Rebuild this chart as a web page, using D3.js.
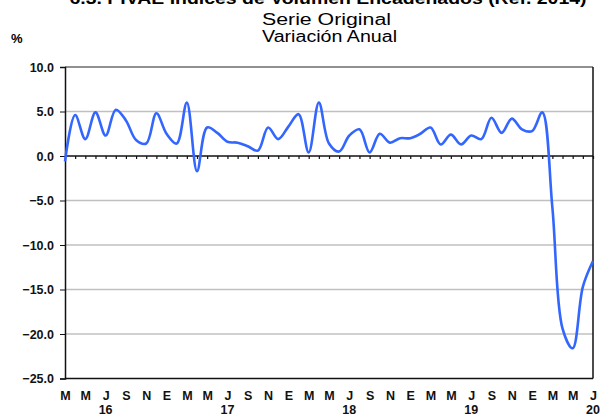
<!DOCTYPE html>
<html><head><meta charset="utf-8">
<script src="https://cdn.jsdelivr.net/npm/d3@7"></script>
<style>body{margin:0;background:#fff}svg{display:block}</style>
</head><body>
<script>
const title = "6.3. PIVAE Índices de Volumen Encadenados (Ref. 2014)";
const subtitle1 = "Serie Original";
const subtitle2 = "Variación Anual";
const yUnit = "%";
const months = [
  "2016-03","2016-04","2016-05","2016-06","2016-07","2016-08","2016-09","2016-10","2016-11","2016-12",
  "2017-01","2017-02","2017-03","2017-04","2017-05","2017-06","2017-07","2017-08","2017-09","2017-10","2017-11","2017-12",
  "2018-01","2018-02","2018-03","2018-04","2018-05","2018-06","2018-07","2018-08","2018-09","2018-10","2018-11","2018-12",
  "2019-01","2019-02","2019-03","2019-04","2019-05","2019-06","2019-07","2019-08","2019-09","2019-10","2019-11","2019-12",
  "2020-01","2020-02","2020-03","2020-04","2020-05","2020-06","2020-07"];
const values = [
  -0.6, 4.6, 1.9, 4.9, 2.3, 5.2, 4.0, 1.8, 1.4, 4.8,
  2.5, 1.4, 6.0, -1.7, 3.2, 2.6, 1.6, 1.5, 1.1, 0.6, 3.2, 1.9,
  3.3, 4.7, 0.4, 6.0, 1.4, 0.5, 2.3, 3.0, 0.4, 2.5, 1.5, 2.0,
  2.0, 2.5, 3.2, 1.3, 2.4, 1.3, 2.3, 1.9, 4.3, 2.6, 4.2, 3.0,
  2.8, 4.9, -5.8, -19.4, -21.6, -14.7, -11.8];
const monthInitials = ["E","F","M","A","M","J","J","A","S","O","N","D"];
const yTicks = [10, 5, 0, -5, -10, -15, -20, -25];

const W = 602, H = 415;
const m = {left: 65, right: 593, top: 67, bottom: 378.5};
const svg = d3.select("body").append("svg").attr("width", W).attr("height", H)
  .style("font-family", "Liberation Sans, Arial, sans-serif");

const x = d3.scaleLinear().domain([0, months.length - 1]).range([m.left, m.right]);
const y = d3.scaleLinear().domain([-25, 10]).range([m.bottom, m.top]);

// titles
svg.append("text").attr("x", 328).attr("y", 4).attr("text-anchor", "middle")
  .attr("font-size", 16).attr("font-weight", "bold").attr("textLength", 517).attr("lengthAdjust", "spacingAndGlyphs")
  .text(title);
svg.append("text").attr("x", 326.5).attr("y", 24.5).attr("text-anchor", "middle")
  .attr("font-size", 16).attr("textLength", 129).attr("lengthAdjust", "spacingAndGlyphs").text(subtitle1);
svg.append("text").attr("x", 329.5).attr("y", 41.5).attr("text-anchor", "middle")
  .attr("font-size", 16).attr("textLength", 135).attr("lengthAdjust", "spacingAndGlyphs").text(subtitle2);
svg.append("text").attr("x", 11).attr("y", 43).attr("font-size", 13).attr("font-weight", "bold").text(yUnit);

// gridlines
svg.append("g").selectAll("line").data(yTicks.filter(d => d !== 0 && d !== -25 && d !== 10)).join("line")
  .attr("x1", m.left).attr("x2", m.right).attr("y1", d => y(d)).attr("y2", d => y(d))
  .attr("stroke", "#c0c0c0").attr("stroke-width", 1.3);

// frame
svg.append("line").attr("x1", m.left).attr("x2", m.right).attr("y1", y(10)).attr("y2", y(10))
  .attr("stroke", "#222").attr("stroke-width", 1);
svg.append("line").attr("x1", m.right).attr("x2", m.right).attr("y1", y(10)).attr("y2", y(-25))
  .attr("stroke", "#111").attr("stroke-width", 1.5);
svg.append("line").attr("x1", m.left).attr("x2", m.right).attr("y1", y(-25)).attr("y2", y(-25))
  .attr("stroke", "#111").attr("stroke-width", 1.5);

// y axis
const yAxis = d3.axisLeft(y).tickValues(yTicks).tickSize(5).tickPadding(6).tickFormat(d3.format(".1f"));
const gy = svg.append("g").attr("transform", `translate(${m.left},0)`).call(yAxis);
gy.select(".domain").attr("stroke", "#111").attr("stroke-width", 1.5);
gy.selectAll(".tick line").attr("stroke", "#111");
gy.selectAll("text").attr("font-size", 12.5).attr("font-weight", "bold").attr("fill", "#111")
  .attr("font-family", "Liberation Sans, Arial, sans-serif");

// zero line with monthly ticks
const x0 = d3.axisBottom(x).tickValues(d3.range(1, months.length)).tickSize(3).tickFormat("");
const g0 = svg.append("g").attr("transform", `translate(0,${y(0)})`).call(x0);
g0.select(".domain").attr("stroke", "#111").attr("stroke-width", 1.5).attr("d", `M${m.left},0H${m.right}`);
g0.selectAll(".tick line").attr("stroke", "#111").attr("stroke-width", 1.2);

// x labels: every 2 months
const xa = d3.axisBottom(x).tickValues(d3.range(0, months.length, 2)).tickSize(0).tickPadding(13)
  .tickFormat(i => monthInitials[+months[i].slice(5) - 1]);
const gx = svg.append("g").attr("transform", `translate(0,${m.bottom})`).call(xa);
gx.select(".domain").remove();
gx.selectAll("text").attr("font-size", 12.5).attr("font-weight", "bold").attr("fill", "#111")
  .attr("font-family", "Liberation Sans, Arial, sans-serif");

// year labels under July
const yearIdx = months.map((d, i) => i).filter(i => months[i].slice(5) === "07");
svg.append("g").selectAll("text").data(yearIdx).join("text")
  .attr("x", i => x(i)).attr("y", 413.5).attr("text-anchor", "middle")
  .attr("font-size", 12.5).attr("font-weight", "bold").attr("fill", "#111")
  .text(i => months[i].slice(2, 4));

// line
const line = d3.line().x((d, i) => x(i)).y(d => y(d)).curve(d3.curveCatmullRom.alpha(0.5));
svg.append("path").datum(values).attr("d", line).attr("fill", "none")
  .attr("stroke", "#3366ff").attr("stroke-width", 2.6).attr("stroke-linejoin", "round");
</script>
</body></html>
